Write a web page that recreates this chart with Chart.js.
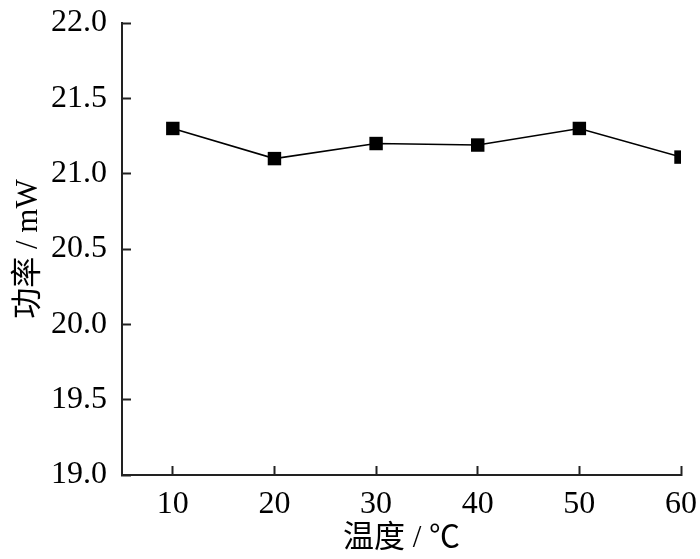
<!DOCTYPE html>
<html>
<head>
<meta charset="utf-8">
<script src="https://cdn.jsdelivr.net/npm/chart.js@4.4.0/dist/chart.umd.min.js"></script>
<style>
html,body{margin:0;padding:0;background:#fff;}
#wrap{width:700px;height:559px;}
</style>
</head>
<body>
<div id="wrap"><canvas id="c" width="700" height="559"></canvas></div>
<script>
const temps = [10, 20, 30, 40, 50, 60];
const power = [21.30, 21.10, 21.20, 21.19, 21.30, 21.11];
const xTicks = [10, 20, 30, 40, 50, 60];
const yTicks = [19.0, 19.5, 20.0, 20.5, 21.0, 21.5, 22.0];
const xTitle = '温度 / ℃';
const yTitle = '功率 / mW';

const serif = '"Liberation Serif", "Times New Roman", "Noto Sans CJK SC", serif';
const cjk = '"Liberation Serif", "Noto Sans CJK SC", serif';

new Chart(document.getElementById('c'), {
  type: 'line',
  data: {
    datasets: [{
      data: temps.map((t, i) => ({x: t, y: power[i]})),
      borderColor: '#000',
      backgroundColor: '#000',
      borderWidth: 1.6,
      pointStyle: 'rect',
      pointRadius: 9.5,
      pointHoverRadius: 9.5,
      pointBorderWidth: 0,
      tension: 0
    }]
  },
  options: {
    responsive: false,
    animation: false,
    devicePixelRatio: 1,
    layout: {padding: {top: 23, right: 19, left: 0, bottom: 0}},
    plugins: {legend: {display: false}, tooltip: {enabled: false}},
    scales: {
      x: {
        type: 'linear',
        min: 5, max: 60,
        afterBuildTicks: s => { s.ticks = xTicks.map(v => ({value: v})); },
        afterFit: s => { s.height = 84; s.paddingLeft = 0; s.paddingRight = 0; },
        grid: {drawOnChartArea: false, drawTicks: true, tickLength: -9, tickWidth: 2, tickColor: '#222'},
        border: {display: true, color: '#222', width: 2},
        ticks: {color: '#000', font: {family: serif, size: 32}, padding: 19, maxRotation: 0, callback: v => String(v)},
        title: {display: true, text: xTitle, color: '#000', font: {family: cjk, size: 31}, padding: {top: 0, bottom: 2}}
      },
      y: {
        type: 'linear',
        min: 19, max: 22,
        afterBuildTicks: s => { s.ticks = yTicks.map(v => ({value: v})); },
        afterFit: s => { s.width = 122; s.paddingTop = 0; s.paddingBottom = 0; },
        grid: {drawOnChartArea: false, drawTicks: true, tickLength: -9, tickWidth: 2, tickColor: '#222'},
        border: {display: true, color: '#222', width: 2},
        ticks: {color: '#000', font: {family: serif, size: 32}, padding: 24, callback: v => Number(v).toFixed(1)},
        title: {display: true, text: yTitle, color: '#000', font: {family: cjk, size: 31}, padding: {top: 10, bottom: 0}}
      }
    }
  }
});
</script>
</body>
</html>
